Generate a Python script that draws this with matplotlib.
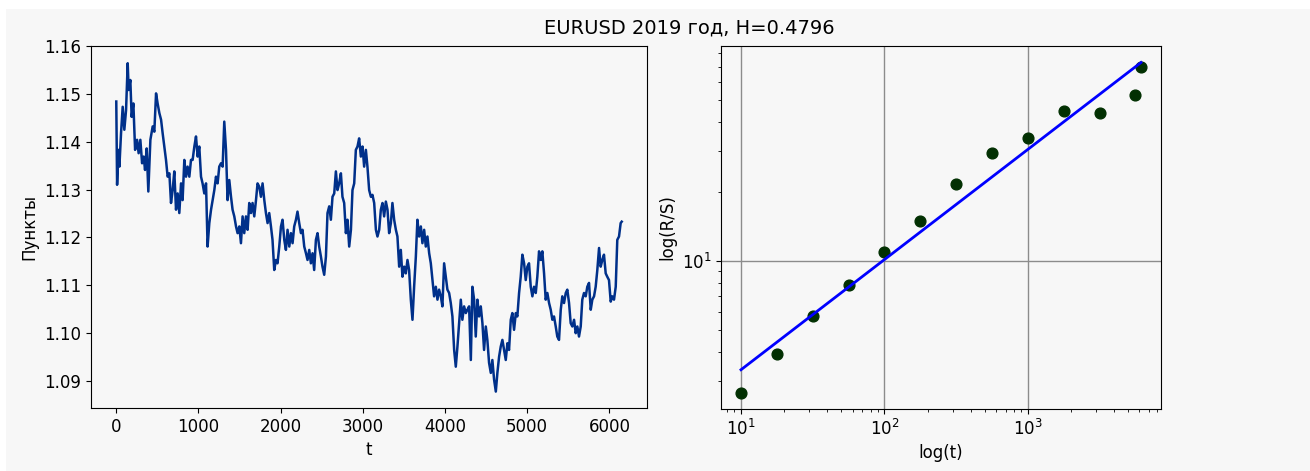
import numpy as np
import matplotlib
matplotlib.use('Agg')
import matplotlib.pyplot as plt
from matplotlib.patches import Rectangle

# Котировки EURUSD за 2019 год (выборка по тикам)
t = [0, 10, 26, 38, 58, 78, 98, 119, 139, 151, 171, 187, 208, 229, 253, 272, 293, 314, 333, 350,
     370, 390, 415, 443, 463, 484, 503, 524, 545, 564, 585, 605, 625, 646, 666, 686, 706, 727, 747, 767,
     788, 807, 828, 849, 868, 889, 909, 929, 950, 970, 990,
     1010, 1031, 1050, 1071, 1092, 1111, 1132, 1153, 1172, 1193, 1213, 1233, 1253, 1274, 1294, 1314, 1335, 1354, 1375, 1396,
     1415, 1436, 1457, 1476, 1497, 1517, 1537, 1557, 1578, 1598, 1618, 1639, 1658, 1679, 1700, 1719, 1740, 1760, 1780, 1801,
     1821, 1841, 1861, 1882, 1901, 1922, 1943, 1962, 1983, 2004, 2023, 2044, 2064, 2084,
     2105, 2125, 2145, 2165, 2186, 2205, 2226, 2247, 2266, 2287, 2308, 2327, 2348, 2368, 2388, 2408, 2429, 2449, 2469, 2490,
     2509, 2530, 2551, 2570, 2591, 2611, 2631, 2652, 2672, 2692, 2712, 2733, 2752, 2773, 2794, 2813, 2834, 2855, 2874, 2895,
     2915, 2935, 2955, 2976, 2996, 3016, 3037, 3056, 3077, 3098, 3117, 3138, 3159, 3178,
     3199, 3219, 3239, 3259, 3280, 3300, 3320, 3341, 3360, 3381, 3402, 3421, 3442, 3462, 3482, 3503, 3523, 3543, 3563, 3584,
     3604, 3624, 3645, 3664, 3685, 3706, 3725, 3746, 3766, 3786, 3807, 3827, 3847, 3867, 3888, 3908, 3928, 3949, 3968, 3989,
     4010, 4029, 4050, 4070, 4090, 4111, 4131, 4151, 4171, 4192, 4211, 4232, 4253, 4272,
     4293, 4314, 4333, 4354, 4374, 4394, 4414, 4435, 4455, 4475, 4496, 4515, 4536, 4557, 4576, 4597, 4618, 4637, 4658, 4678,
     4698, 4718, 4739, 4759, 4779, 4800, 4819, 4840, 4861, 4880, 4901, 4921, 4941, 4962, 4982, 5002, 5022, 5043, 5063, 5083,
     5104, 5123, 5144, 5165, 5184, 5205, 5225, 5245, 5266, 5286, 5306, 5326, 5347, 5366,
     5387, 5408, 5427, 5448, 5469, 5488, 5509, 5529, 5549, 5570, 5590, 5610, 5630, 5651, 5670, 5691, 5712, 5731, 5752, 5773,
     5792, 5813, 5833, 5853, 5874, 5894, 5914, 5934, 5955, 5974, 5995, 6016, 6035, 6056, 6077, 6096, 6117, 6137, 6150]

price = [1.1484, 1.1310, 1.1383, 1.1348, 1.1418, 1.1473, 1.1425, 1.1466, 1.1564, 1.1508, 1.1529, 1.1452, 1.1480, 1.1383, 1.1404, 1.1376, 1.1404, 1.1355, 1.1369, 1.1341,
         1.1386, 1.1296, 1.1404, 1.1432, 1.1421, 1.1501, 1.1480, 1.1460, 1.1446, 1.1418, 1.1390, 1.1362, 1.1327, 1.1334, 1.1272, 1.1299, 1.1338, 1.1258, 1.1292, 1.1251,
         1.1313, 1.1278, 1.1362, 1.1327, 1.1348, 1.1327, 1.1362, 1.1362, 1.1390, 1.1411, 1.1369,
         1.1390, 1.1327, 1.1313, 1.1292, 1.1313, 1.1181, 1.1230, 1.1258, 1.1278, 1.1299, 1.1327, 1.1313, 1.1348, 1.1355, 1.1348, 1.1442, 1.1383, 1.1278, 1.1320, 1.1285,
         1.1258, 1.1244, 1.1223, 1.1209, 1.1223, 1.1188, 1.1244, 1.1209, 1.1244, 1.1216, 1.1272, 1.1251, 1.1272, 1.1244, 1.1278, 1.1313, 1.1306, 1.1285, 1.1313, 1.1278,
         1.1251, 1.1230, 1.1251, 1.1223, 1.1195, 1.1132, 1.1153, 1.1146, 1.1181, 1.1223, 1.1237, 1.1195, 1.1174, 1.1216,
         1.1181, 1.1209, 1.1188, 1.1223, 1.1237, 1.1254, 1.1230, 1.1209, 1.1216, 1.1181, 1.1167, 1.1153, 1.1174, 1.1146, 1.1167, 1.1132, 1.1195, 1.1209, 1.1181, 1.1160,
         1.1139, 1.1122, 1.1160, 1.1251, 1.1265, 1.1237, 1.1285, 1.1292, 1.1338, 1.1299, 1.1313, 1.1334, 1.1285, 1.1272, 1.1209, 1.1237, 1.1181, 1.1216, 1.1299, 1.1313,
         1.1383, 1.1390, 1.1407, 1.1369, 1.1390, 1.1348, 1.1383, 1.1348, 1.1299, 1.1285, 1.1289, 1.1272, 1.1216, 1.1202,
         1.1216, 1.1258, 1.1272, 1.1244, 1.1275, 1.1258, 1.1209, 1.1230, 1.1272, 1.1237, 1.1216, 1.1202, 1.1139, 1.1174, 1.1118, 1.1139, 1.1125, 1.1153, 1.1132, 1.1070,
         1.1028, 1.1097, 1.1160, 1.1237, 1.1202, 1.1223, 1.1188, 1.1216, 1.1181, 1.1202, 1.1167, 1.1146, 1.1111, 1.1077, 1.1097, 1.1070, 1.1091, 1.1077, 1.1056, 1.1146,
         1.1118, 1.1091, 1.1084, 1.1063, 1.1035, 1.0965, 1.0930, 1.0972, 1.1021, 1.1070, 1.1028, 1.1056, 1.1042, 1.1049,
         1.1056, 1.0944, 1.1097, 1.1070, 1.0993, 1.1070, 1.1035, 1.1056, 1.1021, 1.0965, 1.1014, 1.0986, 1.0938, 1.0917, 1.0944, 1.0903, 1.0878, 1.0917, 1.0951, 1.0972,
         1.0986, 1.0965, 1.0944, 1.0979, 1.0965, 1.1028, 1.1042, 1.1007, 1.1042, 1.1035, 1.1084, 1.1118, 1.1164, 1.1146, 1.1111, 1.1139, 1.1146, 1.1097, 1.1077, 1.1097,
         1.1084, 1.1118, 1.1171, 1.1153, 1.1171, 1.1125, 1.1070, 1.1084, 1.1063, 1.1049, 1.1028, 1.1035, 1.1014, 1.0993,
         1.0986, 1.1049, 1.1077, 1.1063, 1.1084, 1.1091, 1.1063, 1.1021, 1.1014, 1.1028, 1.1000, 1.1014, 1.0993, 1.1014, 1.1070, 1.1084, 1.1077, 1.1097, 1.1105, 1.1049,
         1.1070, 1.1077, 1.1097, 1.1132, 1.1178, 1.1139, 1.1153, 1.1164, 1.1125, 1.1118, 1.1111, 1.1066, 1.1077, 1.1070, 1.1097, 1.1195, 1.1202, 1.1230, 1.1233]

# R/S анализ: длины окон и средние значения R/S
n_win = [10, 17.8, 31.6, 56.2, 100, 178, 316, 562, 1000, 1778, 3162, 5623, 6150]
rs = [2.67, 3.92, 5.75, 7.83, 10.87, 14.94, 21.6, 29.6, 34.4, 44.7, 44.1, 52.5, 69.8]

H = 0.4796
c = 0.046  # log10 свободного члена регрессии

bg = '#f7f7f7'
fig = plt.figure(figsize=(13.1, 4.71), dpi=100, facecolor='white')
fig.patches.append(Rectangle((6 / 1310, 0), 1, 1 - 9 / 471, transform=fig.transFigure,
                             facecolor=bg, edgecolor='none', zorder=-10))

ax1 = fig.add_axes([91 / 1310, 63 / 471, 556 / 1310, 362 / 471], facecolor=bg)
ax1.plot(t, price, color='#00308a', lw=1.8)
ax1.set_xlabel('t', fontsize=12)
ax1.set_ylabel('Пункты', fontsize=12)
ax1.set_yticks([1.09, 1.10, 1.11, 1.12, 1.13, 1.14, 1.15, 1.16])
ax1.tick_params(labelsize=12)

ax2 = fig.add_axes([721 / 1310, 62 / 471, 440 / 1310, 363 / 471], facecolor=bg)
ax2.set_xscale('log')
ax2.set_yscale('log')
ax2.grid(True, which='major', color='#8c8c8c', lw=1)
ax2.set_axisbelow(True)
ax2.scatter(n_win, rs, s=60, color='#023002', zorder=3)
tt = np.array([n_win[0], n_win[-1]])
ax2.plot(tt, 10 ** c * tt ** H, color='#0000ff', lw=2, zorder=4)
ax2.set_xlabel('log(t)', fontsize=12)
ax2.set_ylabel('log(R/S)', fontsize=12)
ax2.tick_params(labelsize=12)

fig.text(689 / 1310, 1 - 28 / 471, 'EURUSD 2019 год, H={}'.format(H), ha='center', va='center', fontsize=14)

plt.savefig('out.png', dpi=100, facecolor=fig.get_facecolor())
